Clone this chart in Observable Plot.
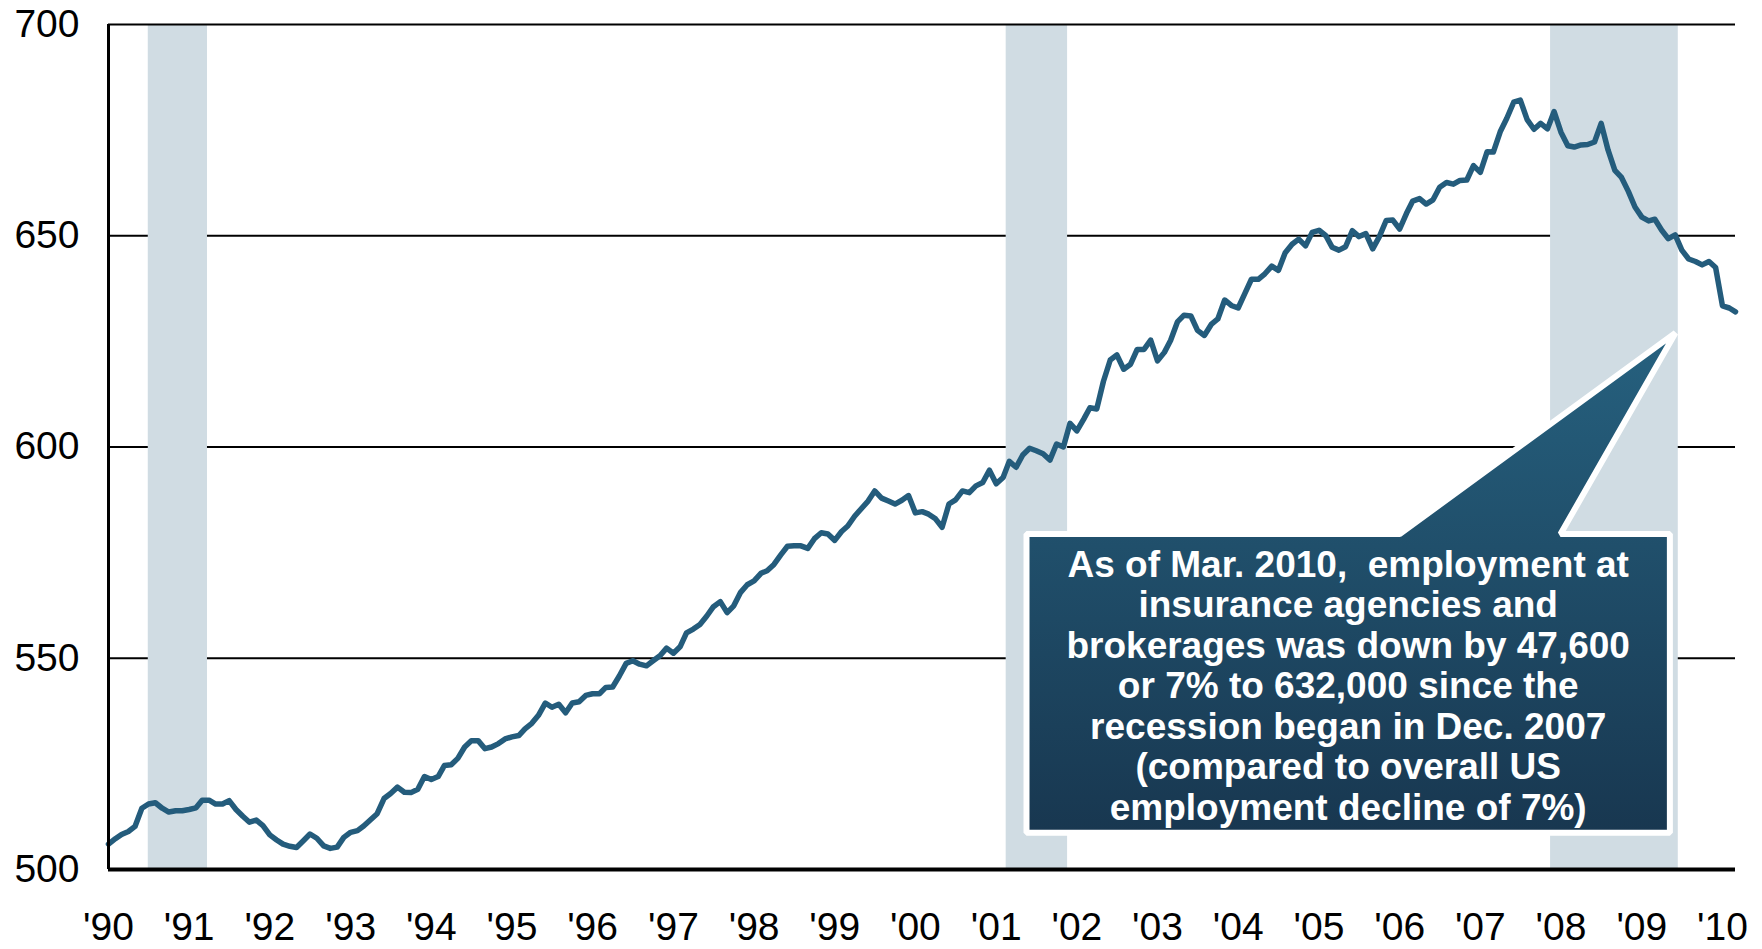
<!DOCTYPE html>
<html>
<head>
<meta charset="utf-8">
<script src="https://cdn.jsdelivr.net/npm/d3@7"></script>
<script src="https://cdn.jsdelivr.net/npm/@observablehq/plot@0.6"></script>
<style>
  html, body { margin: 0; padding: 0; background: #fff; }
  svg { display: block; }
  svg text { white-space: pre; }
</style>
</head>
<body>
<div id="chart"></div>
<script>
// Monthly employment, insurance agencies & brokerages (thousands), Jan 1990 – Mar 2010
const startYear = 1990;
const employment = [
  506.0, 507.3, 508.3, 509.0, 510.2, 514.5, 515.5, 515.8, 514.5, 513.6, 513.9, 513.9, // 1990
  514.2, 514.6, 516.4, 516.4, 515.5, 515.5, 516.3, 514.2, 512.6, 511.2, 511.7, 510.4, // 1991
  508.2, 507.0, 506.0, 505.5, 505.2, 506.8, 508.4, 507.4, 505.6, 505.0, 505.3, 507.6, // 1992
  508.8, 509.2, 510.3, 511.8, 513.2, 516.8, 518.0, 519.5, 518.3, 518.2, 519.0, 522.0, // 1993
  521.3, 522.0, 524.6, 524.8, 526.3, 529.0, 530.5, 530.5, 528.6, 529.0, 529.8, 530.9, // 1994
  531.4, 531.7, 533.3, 534.6, 536.5, 539.4, 538.4, 539.1, 537.1, 539.4, 539.7, 541.2, // 1995
  541.6, 541.6, 543.1, 543.2, 545.8, 548.8, 549.4, 548.6, 548.2, 549.4, 550.6, 552.4, // 1996
  551.2, 552.8, 556.0, 556.9, 558.0, 560.0, 562.2, 563.4, 560.8, 562.4, 565.6, 567.4, // 1997
  568.3, 570.1, 570.7, 572.2, 574.4, 576.5, 576.6, 576.6, 576.0, 578.3, 579.7, 579.4, // 1998
  577.9, 580.0, 581.3, 583.6, 585.4, 587.2, 589.6, 587.9, 587.2, 586.5, 587.4, 588.5, // 1999
  584.4, 584.7, 584.1, 583.0, 581.0, 586.5, 587.5, 589.6, 589.2, 590.8, 591.6, 594.5, // 2000
  591.3, 592.8, 596.6, 595.2, 598.1, 599.7, 599.1, 598.4, 596.9, 600.7, 600.0, 605.6, // 2001
  603.8, 606.6, 609.3, 609.0, 615.5, 620.6, 621.8, 618.4, 619.6, 623.1, 623.1, 625.3, // 2002
  620.4, 622.4, 625.2, 629.6, 631.2, 631.0, 627.6, 626.4, 629.0, 630.3, 634.8, 633.5, // 2003
  632.9, 636.4, 639.7, 639.7, 641.0, 642.8, 641.8, 646.0, 648.0, 649.2, 647.6, 650.8, // 2004
  651.3, 650.0, 647.3, 646.6, 647.4, 651.2, 649.8, 650.5, 646.9, 649.8, 653.6, 653.7, // 2005
  651.6, 655.3, 658.2, 658.8, 657.5, 658.5, 661.5, 662.6, 662.2, 663.1, 663.2, 666.6, // 2006
  665.0, 669.9, 669.8, 674.6, 677.8, 681.6, 682.1, 677.5, 675.2, 676.6, 675.3, 679.4, // 2007
  674.5, 671.3, 671.0, 671.5, 671.6, 672.2, 676.6, 670.3, 665.5, 663.8, 660.5, 656.8, // 2008
  654.4, 653.5, 653.9, 651.3, 649.3, 650.2, 646.6, 644.5, 643.9, 643.1, 643.9, 642.5, // 2009
  633.4, 632.9, 632.0                                                                  // 2010
];

const yearTicks = [1990,1991,1992,1993,1994,1995,1996,1997,1998,1999,2000,2001,2002,2003,2004,2005,2006,2007,2008,2009,2010];
const yearLabels = ["'90","'91","'92","'93","'94","'95","'96","'97","'98","'99","'00","'01","'02","'03","'04","'05","'06","'07","'08","'09","'10"];
const yTicks = [500, 550, 600, 650, 700];
const gridValues = [550, 600, 650];

const recessionStart = ["1990-06-30", "2001-02-15", "2007-11-15"];
const recessionEnd   = ["1991-03-25", "2001-11-20", "2009-06-15"];

// Callout outline (box with pointer), in data coordinates
const calloutDates  = ["2001-05-18", "2006-01-01", "2009-06-02", "2007-12-30", "2009-05-08", "2009-05-08", "2001-05-18"];
const calloutValues = [579.4, 579.4, 627.0, 579.4, 579.4, 508.7, 508.7];
const calloutTextDate = "2005-05-13";
const calloutTextValue = 543.6;
const calloutText = [
  "As of Mar. 2010,  employment at",
  "insurance agencies and",
  "brokerages was down by 47,600",
  "or 7% to 632,000 since the",
  "recession began in Dec. 2007",
  "(compared to overall US",
  "employment decline of 7%)"
].join("\n");

// ---- build tables ----
const parse = s => new Date(s + "T00:00:00Z");
const months = employment.map((v, i) => ({date: new Date(Date.UTC(startYear, i, 1)), value: v}));
const recessions = recessionStart.map((s, i) => ({start: parse(s), end: parse(recessionEnd[i])}));
const callout = calloutDates.map((d, i) => ({date: parse(d), value: calloutValues[i]}));
const yearDates = yearTicks.map(y => new Date(Date.UTC(y, 0, 1)));
const labelOf = new Map(yearDates.map((d, i) => [+d, yearLabels[i]]));

const xDomain = [months[0].date, months[months.length - 1].date];

const svg = Plot.plot({
  width: 1762,
  height: 949,
  marginLeft: 108,
  marginRight: 27,
  marginTop: 24,
  marginBottom: 80,
  style: {fontFamily: "'Liberation Sans', Arial, sans-serif", color: "black", background: "white"},
  x: {type: "utc", domain: xDomain},
  y: {domain: [500, 700]},
  marks: [
    Plot.ruleY(gridValues, {stroke: "black", strokeWidth: 2}),
    Plot.rect(recessions, {x1: "start", x2: "end", y1: () => 500, y2: () => 700, fill: "#d0dce3"}),
    Plot.ruleY([700], {stroke: "black", strokeWidth: 2}),
    Plot.line(months, {x: "date", y: "value", stroke: "#245c7c", strokeWidth: 5.5, strokeLinejoin: "round", strokeLinecap: "round"}),
    Plot.ruleX([xDomain[0]], {stroke: "black", strokeWidth: 3}),
    Plot.ruleY([500], {stroke: "black", strokeWidth: 4}),
    Plot.line(callout, {x: "date", y: "value", curve: "linear-closed", fill: "url(#calloutGrad)", stroke: "white", strokeWidth: 6, strokeLinejoin: "miter"}),
    Plot.text([calloutText], {x: () => parse(calloutTextDate), y: () => calloutTextValue, text: d => d, fill: "white", fontWeight: "bold", fontSize: 37, lineHeight: 1.093, textAnchor: "middle"}),
    Plot.axisY(yTicks, {tickSize: 0, tickPadding: 29, fontSize: 39, label: null}),
    Plot.axisX(yearDates, {tickSize: 0, tickPadding: 43, fontSize: 39, label: null, tickFormat: d => labelOf.get(+d)})
  ]
});

const defs = d3.select(svg).insert("defs", ":first-child");
const grad = defs.append("linearGradient").attr("id", "calloutGrad").attr("x1", 0).attr("y1", 0).attr("x2", 0).attr("y2", 1);
grad.append("stop").attr("offset", "0%").attr("stop-color", "#26617f");
grad.append("stop").attr("offset", "100%").attr("stop-color", "#183750");

document.getElementById("chart").appendChild(svg);
</script>
</body>
</html>
